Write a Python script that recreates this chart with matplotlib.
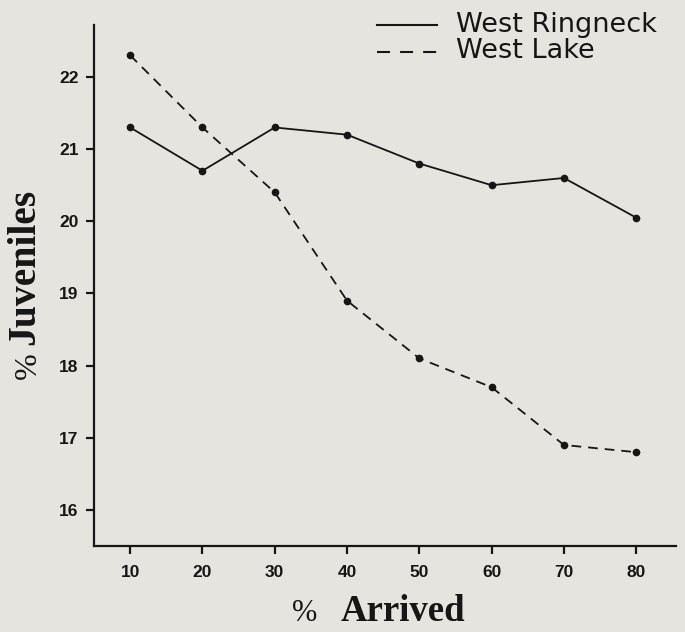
import matplotlib
matplotlib.use("Agg")
import matplotlib.pyplot as plt
from matplotlib.lines import Line2D

arrived = [10, 20, 30, 40, 50, 60, 70, 80]
west_ringneck = [21.3, 20.7, 21.3, 21.2, 20.8, 20.5, 20.6, 20.05]
west_lake = [22.3, 21.3, 20.4, 18.9, 18.1, 17.7, 16.9, 16.8]
yticks = [16, 17, 18, 19, 20, 21, 22]
series_names = ["West Ringneck", "West Lake"]

plt.rcParams["lines.scale_dashes"] = False
bg = "#e6e4df"
ink = "#161616"
W, H = 685, 632

def fx(px):
    return px / W

def fy(py):
    return 1 - py / H

fig = plt.figure(figsize=(6.85, 6.32), dpi=100, facecolor=bg)
ax = fig.add_axes([fx(94), fy(546), (676 - 94) / W, (546 - 25) / H], facecolor=bg)

dash = (0, (7, 5))
ax.plot(arrived, west_ringneck, color=ink, lw=1.3, marker="o", ms=4.5, mfc=ink, mec=ink)
ax.plot(arrived, west_lake, color=ink, lw=1.3, ls=dash, marker="o", ms=4.5, mfc=ink, mec=ink)

ax.set_xlim(5.0, 85.5)
ax.set_ylim(15.5, 22.72)
ax.set_xticks(arrived)
ax.set_yticks(yticks)
for s in ["top", "right"]:
    ax.spines[s].set_visible(False)
for s in ["left", "bottom"]:
    ax.spines[s].set_linewidth(1.6)
    ax.spines[s].set_color(ink)
ax.tick_params(direction="out", length=6, width=1.6, color=ink, labelcolor=ink)
ax.tick_params(axis="y", pad=5)
ax.tick_params(axis="x", pad=8)
for lab in ax.get_xticklabels() + ax.get_yticklabels():
    lab.set_fontfamily("Liberation Sans")
    lab.set_fontweight("bold")
    lab.set_fontsize(12.5)

# axis titles
fig.text(fx(317), fy(621), "%", ha="right", va="baseline",
         family="Liberation Serif", fontsize=22, color=ink)
fig.text(fx(341), fy(621), "Arrived", ha="left", va="baseline",
         family="Liberation Serif", fontweight="bold", fontsize=26.5, color=ink)
fig.text(fx(25), fy(345), "Juveniles", ha="center", va="bottom", rotation=90,
         family="Liberation Serif", fontweight="bold", fontsize=28.5, color=ink)
fig.text(fx(28), fy(352), "%", ha="center", va="top", rotation=90,
         family="Liberation Serif", fontsize=23, color=ink)

# legend
rows = [(24.5, "-"), (51.5, (0, (9.4, 7.2)))]
for (py, ls), name in zip(rows, series_names):
    fig.add_artist(Line2D([fx(377), fx(437)], [fy(py), fy(py)], color=ink, lw=1.5, ls=ls,
                          transform=fig.transFigure))
    fig.text(fx(456), fy(py), name, ha="left", va="center",
             family="DejaVu Sans", fontsize=19.5, color=ink)

fig.savefig("out.png", dpi=100, facecolor=bg)
